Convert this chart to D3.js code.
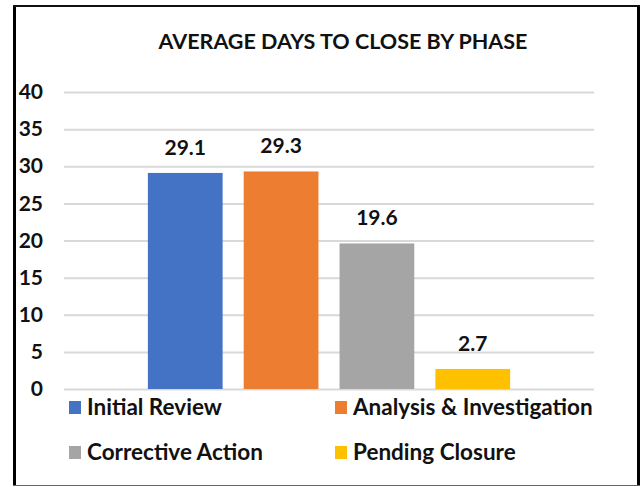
<!DOCTYPE html>
<html>
<head>
<meta charset="utf-8">
<script src="https://cdn.jsdelivr.net/npm/d3@7"></script>
<style>
  html, body { margin: 0; padding: 0; background: #fff; }
  svg { display: block; font-family: Lato, 'Noto Sans', sans-serif; }
</style>
</head>
<body>
<div id="chart"></div>
<script>
const title = 'AVERAGE DAYS TO CLOSE BY PHASE';
const phases = [ 'Initial Review', 'Analysis & Investigation', 'Corrective Action', 'Pending Closure' ];
const avgDays = [ 29.1, 29.3, 19.6, 2.7 ];
const yTicks = [ 0, 5, 10, 15, 20, 25, 30, 35, 40 ];
const colorRange = [ '#4472c4', '#ed7d31', '#a5a5a5', '#ffc000' ];

const W = 641, H = 487;
const plot = { left: 64, right: 594, top: 92, bottom: 389 };

const svg = d3.select('#chart').
  append('svg').
  attr('width', W).
  attr('height', H);

// frame of the screenshot
svg.append('rect').
  attr('x', 0).attr('y', 0).attr('width', W).attr('height', H).
  attr('fill', '#fff');
svg.append('line').attr('x1', 14.5).attr('x2', 14.5).attr('y1', 5).attr('y2', 486).attr('stroke', '#000').attr('stroke-width', 3);
svg.append('line').attr('x1', 638.5).attr('x2', 638.5).attr('y1', 5).attr('y2', 486).attr('stroke', '#000').attr('stroke-width', 3);
svg.append('line').attr('x1', 13).attr('x2', 640).attr('y1', 6).attr('y2', 6).attr('stroke', '#111').attr('stroke-width', 2);
svg.append('line').attr('x1', 13).attr('x2', 640).attr('y1', 485.5).attr('y2', 485.5).attr('stroke', '#666').attr('stroke-width', 1);

svg.append('text').
  attr('x', 343).
  attr('y', 49).
  attr('text-anchor', 'middle').
  attr('font-size', 21.5).
  attr('font-weight', 700).
  attr('fill', '#111').
  text(title);

const y = d3.scaleLinear().domain([ 0, 40 ]).range([ plot.bottom, plot.top ]);

// one category holding the four phases side by side
const x0 = d3.scaleBand().domain([ 'all' ]).range([ plot.left, plot.right ]).padding(0.188);
const x1 = d3.scaleBand().domain(phases).range([ 0, x0.bandwidth() ]).paddingInner(0.22).paddingOuter(0);

const yAxis = d3.axisLeft(y).tickValues(yTicks).tickSize(-(plot.right - plot.left)).tickPadding(21);
const gy = svg.append('g').
  attr('transform', 'translate(' + plot.left + ',0)').
  call(yAxis);
gy.select('.domain').remove();
gy.selectAll('line').attr('stroke', '#d9d9d9').attr('stroke-width', 2);
gy.selectAll('text').
  attr('font-size', 21).
  attr('font-weight', 700).
  attr('fill', '#111').
  attr('font-family', 'Lato, sans-serif');

const bars = svg.append('g').attr('transform', 'translate(' + x0('all') + ',0)');
bars.selectAll('rect').
  data(phases).
  enter().append('rect').
    attr('x', d => x1(d)).
    attr('y', (d, i) => y(avgDays[i])).
    attr('width', x1.bandwidth()).
    attr('height', (d, i) => y(0) - y(avgDays[i])).
    attr('fill', (d, i) => colorRange[i]);

bars.selectAll('text.val').
  data(phases).
  enter().append('text').
    attr('class', 'val').
    attr('x', d => x1(d) + x1.bandwidth() / 2).
    attr('y', (d, i) => y(avgDays[i]) - 18).
    attr('text-anchor', 'middle').
    attr('font-size', 21).
    attr('font-weight', 700).
    attr('fill', '#111').
    text((d, i) => avgDays[i].toFixed(1));

// legend, two columns by two rows
const legendX = [ 69, 335 ], legendY = [ 401, 446 ];
const legend = svg.append('g').selectAll('g').
  data(phases).
  enter().append('g').
    attr('transform', (d, i) => 'translate(' + legendX[i % 2] + ',' + legendY[Math.floor(i / 2)] + ')');
legend.append('rect').
  attr('width', 12).attr('height', 13).
  attr('fill', (d, i) => colorRange[i]);
legend.append('text').
  attr('x', 18).
  attr('y', 14).
  attr('font-size', 22.5).
  attr('font-weight', 700).
  attr('fill', '#111').
  text(d => d);
</script>
</body>
</html>
